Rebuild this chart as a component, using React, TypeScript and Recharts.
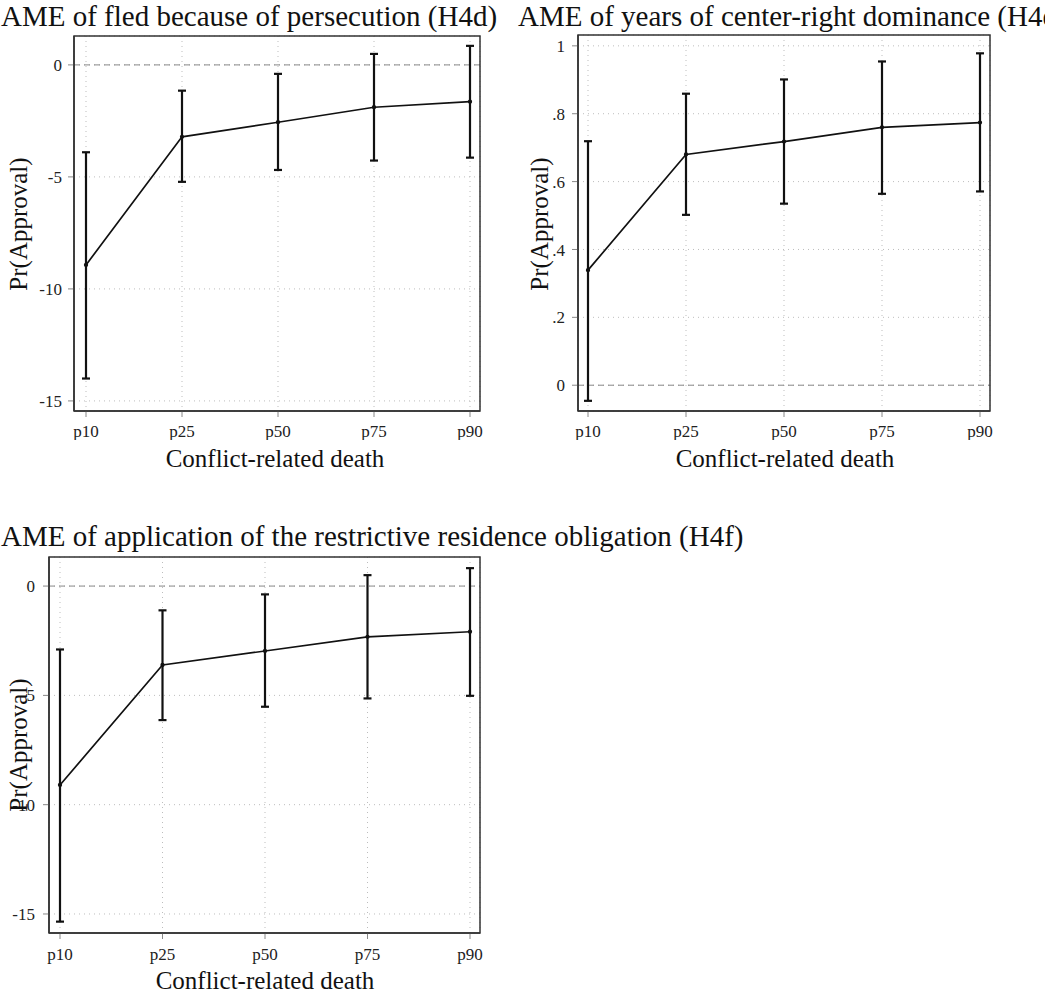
import React from "react";
import {
  LineChart,
  Line,
  XAxis,
  YAxis,
  CartesianGrid,
  ReferenceLine,
  ErrorBar,
} from "recharts";

// percentiles of conflict-related death
const categories = ["p10", "p25", "p50", "p75", "p90"];

// AME of fled because of persecution (H4d)
const fledEst = [-8.93, -3.21, -2.56, -1.89, -1.64];
const fledLow = [-14.0, -5.22, -4.69, -4.27, -4.14];
const fledHigh = [-3.9, -1.15, -0.4, 0.49, 0.85];

// AME of years of center-right dominance (H4e)
const rightEst = [0.339, 0.68, 0.718, 0.76, 0.774];
const rightLow = [-0.046, 0.502, 0.535, 0.564, 0.571];
const rightHigh = [0.719, 0.859, 0.901, 0.954, 0.978];

// AME of application of the restrictive residence obligation (H4f)
const residEst = [-9.1, -3.61, -2.97, -2.32, -2.09];
const residLow = [-15.35, -6.13, -5.52, -5.14, -5.02];
const residHigh = [-2.9, -1.11, -0.38, 0.5, 0.82];

const pctTicks = [-15, -10, -5, 0];
const shareTicks = [0, 0.2, 0.4, 0.6, 0.8, 1];

const serif = '"Liberation Serif", "Times New Roman", serif';

function buildRows(est: number[], low: number[], high: number[]) {
  return categories.map((cat, i) => ({
    cat,
    est: est[i],
    err: [est[i] - low[i], high[i] - est[i]],
  }));
}

const shareLabel = (v: number) => {
  if (v === 0) return "0";
  if (v === 1) return "1";
  return String(v).replace(/^0/, "");
};

type PanelProps = {
  left: number;
  top: number;
  width: number;
  height: number;
  rows: { cat: string; est: number; err: number[] }[];
  domain: [number, number];
  ticks: number[];
  yWidth: number;
  marginTop: number;
  xHeight: number;
  padL: number;
  padR: number;
  yTickMargin: number;
  xTickMargin: number;
  fmt?: (v: number) => string;
};

function Panel(p: PanelProps) {
  const tickStyle = { fill: "#222", fontSize: 17, fontFamily: serif };
  const axis = { stroke: "#333", strokeWidth: 1.5 };
  const plotW = p.width - 20 - p.yWidth;
  const plotH = p.height - p.marginTop - p.xHeight;
  return (
    <div style={{ position: "absolute", left: p.left, top: p.top }}>
      <LineChart
        width={p.width}
        height={p.height}
        data={p.rows}
        margin={{ top: p.marginTop, right: 20, bottom: 0, left: 0 }}
      >
        <CartesianGrid stroke="#bdbdbd" strokeDasharray="1 4" />
        <XAxis
          dataKey="cat"
          height={p.xHeight}
          padding={{ left: p.padL, right: p.padR }}
          tick={tickStyle}
          tickLine={{ stroke: "#888" }}
          tickMargin={p.xTickMargin}
          axisLine={axis}
        />
        <YAxis
          type="number"
          domain={p.domain}
          ticks={p.ticks}
          width={p.yWidth}
          tick={tickStyle}
          tickFormatter={p.fmt}
          tickLine={{ stroke: "#888" }}
          tickMargin={p.yTickMargin}
          axisLine={axis}
          allowDataOverflow
        />
        <ReferenceLine y={0} stroke="#888" strokeDasharray="6 4" />
        <Line
          type="linear"
          dataKey="est"
          stroke="#111"
          strokeWidth={1.7}
          dot={{ r: 1.3, fill: "#111", stroke: "#111" }}
          isAnimationActive={false}
        >
          <ErrorBar
            dataKey="err"
            direction="y"
            width={4}
            stroke="#111"
            strokeWidth={2.2}
            isAnimationActive={false}
          />
        </Line>
      </LineChart>
      {/* plot frame (box round the plot region) */}
      <svg
        width={p.width}
        height={p.height}
        style={{ position: "absolute", left: 0, top: 0, pointerEvents: "none" }}
      >
        <rect
          x={p.yWidth}
          y={p.marginTop}
          width={plotW}
          height={plotH}
          fill="none"
          stroke="#333"
          strokeWidth={1.5}
        />
      </svg>
    </div>
  );
}

export default function App() {
  const textStyle = { fontFamily: serif, fill: "#111" };
  return (
    <div
      style={{
        position: "absolute",
        left: 0,
        top: 0,
        width: 1045,
        height: 996,
        overflow: "hidden",
        background: "#fff",
      }}
    >
      <Panel
        left={0}
        top={0}
        width={500}
        height={440}
        rows={buildRows(fledEst, fledLow, fledHigh)}
        domain={[-15.45, 1.29]}
        ticks={pctTicks}
        yWidth={74}
        marginTop={36}
        xHeight={29}
        padL={12}
        padR={10}
        yTickMargin={6}
        xTickMargin={8}
      />
      <Panel
        left={504}
        top={0}
        width={506}
        height={440}
        rows={buildRows(rightEst, rightLow, rightHigh)}
        domain={[-0.076, 1.032]}
        ticks={shareTicks}
        yWidth={74}
        marginTop={35}
        xHeight={29}
        padL={10}
        padR={10}
        yTickMargin={7}
        xTickMargin={8}
        fmt={shareLabel}
      />
      <Panel
        left={0}
        top={520}
        width={500}
        height={450}
        rows={buildRows(residEst, residLow, residHigh)}
        domain={[-15.87, 1.33]}
        ticks={pctTicks}
        yWidth={49}
        marginTop={37}
        xHeight={37}
        padL={11}
        padR={10}
        yTickMargin={8}
        xTickMargin={9}
      />
      <svg
        width={1045}
        height={996}
        style={{ position: "absolute", left: 0, top: 0, pointerEvents: "none" }}
      >
        <text x={1} y={26} fontSize={29} {...textStyle}>
          AME of fled because of persecution (H4d)
        </text>
        <text x={518} y={26} fontSize={29} {...textStyle}>
          AME of years of center-right dominance (H4e)
        </text>
        <text x={1} y={546} fontSize={29} {...textStyle}>
          AME of application of the restrictive residence obligation (H4f)
        </text>

        <text x={275} y={467} fontSize={25} textAnchor="middle" {...textStyle}>
          Conflict-related death
        </text>
        <text x={785} y={467} fontSize={25} textAnchor="middle" {...textStyle}>
          Conflict-related death
        </text>
        <text x={265} y={989} fontSize={25} textAnchor="middle" {...textStyle}>
          Conflict-related death
        </text>

        <text
          x={27}
          y={224}
          fontSize={25}
          textAnchor="middle"
          transform="rotate(-90 27 224)"
          {...textStyle}
        >
          Pr(Approval)
        </text>
        <text
          x={548}
          y={224}
          fontSize={25}
          textAnchor="middle"
          transform="rotate(-90 548 224)"
          {...textStyle}
        >
          Pr(Approval)
        </text>
        <text
          x={27}
          y={745}
          fontSize={25}
          textAnchor="middle"
          transform="rotate(-90 27 745)"
          {...textStyle}
        >
          Pr(Approval)
        </text>
      </svg>
    </div>
  );
}
